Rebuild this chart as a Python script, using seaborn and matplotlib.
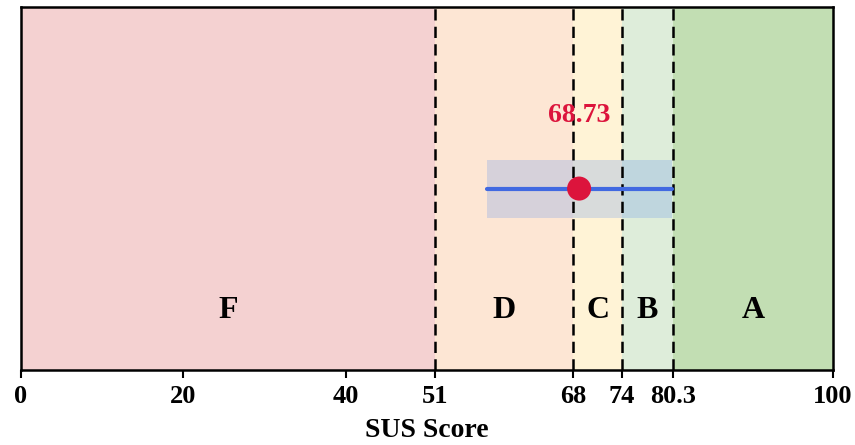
import matplotlib
matplotlib.use("Agg")
import matplotlib.pyplot as plt
import seaborn as sns
import pandas as pd

# Grade bands on the SUS scale
band_labels = ["F", "D", "C", "B", "A"]
band_edges = [0, 51, 68, 74, 80.3, 100]
band_colors = ["#f4d1d1", "#fde6d4", "#fff3d6", "#deedda", "#c2deb3"]

tick_values = [0, 20, 40, 51, 68, 74, 80.3, 100]
tick_labels = ["0", "20", "40", "51", "68", "74", "80.3", "100"]

# Mean score and its confidence interval
mean_score = 68.73
ci_low = 57.33
ci_high = 80.13

sns.set_theme(style="white")
plt.rcParams["font.family"] = ["Liberation Serif", "DejaVu Serif"]
plt.rcParams["font.weight"] = "bold"
plt.rcParams["text.color"] = "black"
plt.rcParams["axes.labelcolor"] = "black"
plt.rcParams["xtick.color"] = "black"
plt.rcParams["xtick.labelcolor"] = "black"

fig = plt.figure(figsize=(8.55, 4.45), dpi=100)
ax = fig.add_axes([0.0246, 0.1685, 0.9497, 0.8155])

for i, lab in enumerate(band_labels):
    lo, hi = band_edges[i], band_edges[i + 1]
    ax.axvspan(lo, hi, color=band_colors[i], lw=0, zorder=0)
    ax.text((lo + hi) / 2, 0.163, lab, ha="center", va="center",
            fontsize=23, fontweight="bold", color="black", zorder=3)

for x in band_edges[1:-1]:
    ax.axvline(x, color="black", ls=(0, (4.5, 2.5)), lw=1.8, zorder=2)

# Interval band, line and mean marker
ax.fill_between([ci_low, ci_high], 0.42, 0.58, color="cornflowerblue",
                alpha=0.25, lw=0, zorder=1)
ci_df = pd.DataFrame({"x": [ci_low, ci_high], "y": [0.5, 0.5]})
sns.lineplot(data=ci_df, x="x", y="y", color="royalblue", lw=3, ax=ax,
             zorder=4)
pt_df = pd.DataFrame({"x": [mean_score], "y": [0.5]})
sns.scatterplot(data=pt_df, x="x", y="y", color="crimson", s=300,
                edgecolor="none", ax=ax, zorder=5)
ax.text(mean_score, 0.70, f"{mean_score:.2f}", ha="center", va="center",
        color="crimson", fontsize=20, fontweight="bold", zorder=6)

ax.set_xlim(0, 100)
ax.set_ylim(0, 1)
ax.set_yticks([])
ax.set_xticks(tick_values)
ax.set_xticklabels(tick_labels, fontsize=19, fontweight="bold",
                   color="black")
ax.tick_params(axis="x", length=6, width=1.5, color="black", bottom=True,
               pad=5)
ax.set_xlabel("SUS Score", fontsize=20, fontweight="bold", labelpad=7,
              color="black")
ax.set_ylabel("")
for s in ax.spines.values():
    s.set_color("black")
    s.set_linewidth(1.8)

fig.savefig("out.png", dpi=100)
